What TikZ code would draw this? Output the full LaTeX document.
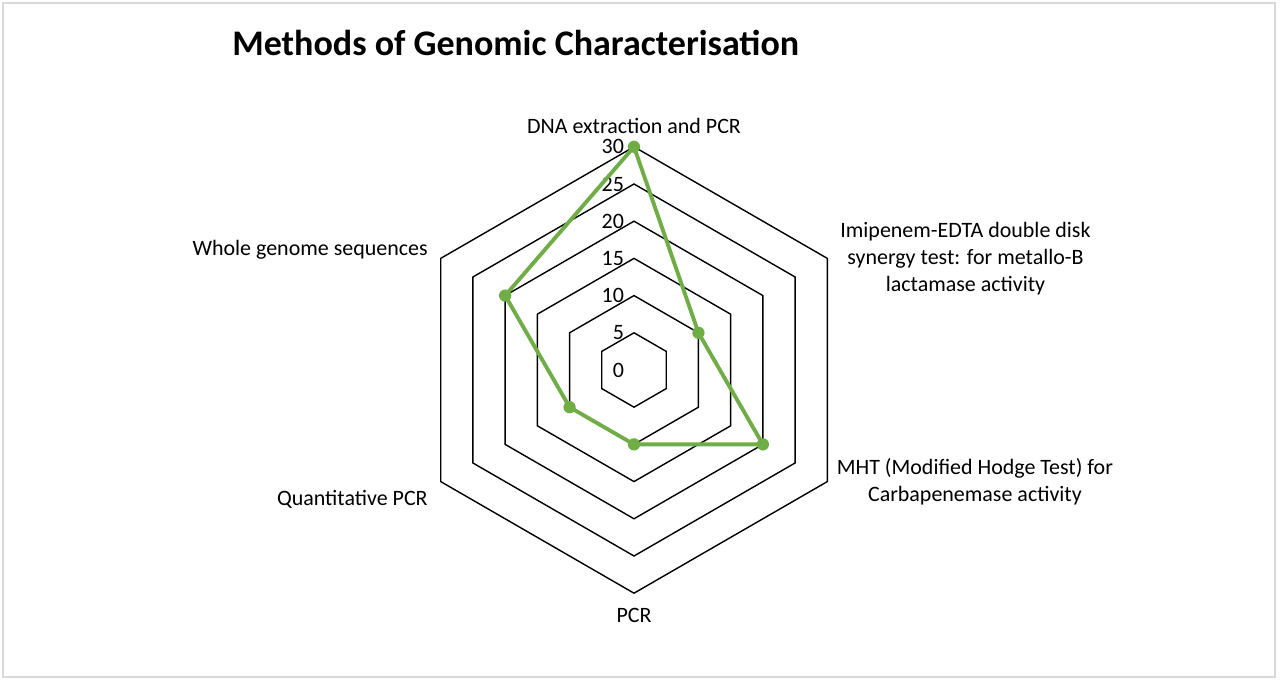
\documentclass[tikz,border=0pt]{standalone}
\usepackage{fontspec}
\setmainfont{Carlito}
\definecolor{seriesgreen}{RGB}{112,173,71}
\definecolor{framegray}{RGB}{217,217,217}
\begin{document}
\begin{tikzpicture}[x=0.02cm,y=0.02cm,
    ring/.style={black, line width=0.8pt},
    axislabel/.style={font=\fontsize{12.5}{15.5}\selectfont, align=center},
    ticklabel/.style={font=\fontsize{12.5}{15}\selectfont, anchor=east, inner sep=1pt},
    series/.style={seriesgreen, line width=2.2pt, line join=round},
    marker/.style={circle, fill=seriesgreen, inner sep=0pt, minimum size=7pt}]
    % Frame
    \useasboundingbox (0,0) rectangle (1280,685);
    \draw[framegray, line width=0.6pt] (3,8) rectangle (1275,682);

    % Title
    \node[font=\bfseries\fontsize{20.5}{24}\selectfont, anchor=west, inner sep=0pt] (title) at (232,642) {Methods of Genomic Characterisation};

    \begin{scope}[shift={(634,315)}]
        % Rings
        \foreach \r in {1,...,6}
            \draw[ring] (90:\r*37.2) -- (30:\r*37.2) -- (-30:\r*37.2) -- (-90:\r*37.2) -- (-150:\r*37.2) -- (150:\r*37.2) -- cycle;

        % Tick labels
        \foreach \r in {0,...,6}
            \pgfmathtruncatemacro{\v}{5*\r}
            \node[ticklabel] (tick\r) at (-8,\r*37.2) {\v};

        % Axis labels
        \node[axislabel, anchor=south] (dna) at (90:230) {DNA extraction and PCR};
        \node[axislabel, anchor=west] (imi) at ([xshift=4]30:223) {Imipenem-EDTA double disk\\synergy test: for metallo-B\\lactamase activity};
        \node[axislabel, anchor=west] (mht) at ([xshift=2]-30:223) {MHT (Modified Hodge Test) for\\Carbapenemase activity};
        \node[axislabel, anchor=north] (pcr) at (-90:232) {PCR};
        \node[axislabel, anchor=east] (qpcr) at ([xshift=-4,yshift=-10]-150:223) {Quantitative PCR};
        \node[axislabel, anchor=east] (wgs) at ([xshift=-4,yshift=5]150:223) {Whole genome sequences};

        % Series
        \draw[series] (90:223.2) -- (30:74.4) -- (-30:148.8) -- (-90:74.4) -- (-150:74.4) -- (150:148.8) -- cycle;
        \foreach \a/\v in {90/223.2, 30/74.4, -30/148.8, -90/74.4, -150/74.4, 150/148.8}
            \node[marker] at (\a:\v) {};
    \end{scope}
\end{tikzpicture}
\end{document}
